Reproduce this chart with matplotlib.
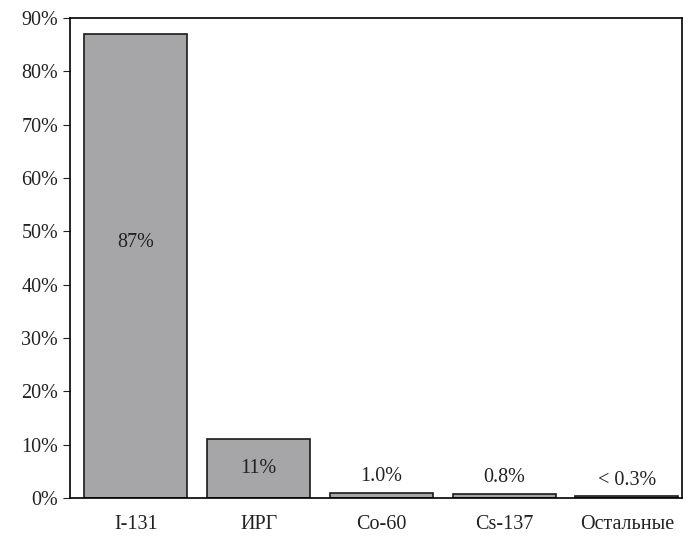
import numpy as np
import matplotlib.pyplot as plt
from matplotlib.ticker import FuncFormatter

plt.rcParams['font.family'] = ['Liberation Serif', 'DejaVu Serif']

categories = ['I-131', 'ИРГ', 'Co-60', 'Cs-137', 'Остальные']
values = [87, 11, 1.0, 0.8, 0.3]
labels = ['87%', '11%', '1.0%', '0.8%', '< 0.3%']

fig = plt.figure(figsize=(6.83, 5.44), dpi=100)
ax = fig.add_axes([0.1025, 0.0846, 0.896, 0.882])
x = np.arange(len(categories))
ax.bar(x, values, width=0.84, color='#a6a6a8', edgecolor='#1a1a1a', linewidth=1.2)

for i, (v, t) in enumerate(zip(values, labels)):
    if v > 50:
        ax.text(i, 48, t, ha='center', va='center', fontsize=14.5, color='#222222')
    elif v > 5:
        ax.text(i, v / 2, t, ha='center', va='center', fontsize=14.5, color='#222222')
    else:
        ax.text(i, v + 3, t, ha='center', va='center', fontsize=14.5, color='#222222')

ax.set_xlim(-0.537, 4.45)
ax.set_ylim(0, 90)
ax.set_yticks(np.arange(0, 91, 10))
ax.yaxis.set_major_formatter(FuncFormatter(lambda v, p: f'{int(v)}%'))
ax.set_xticks(x)
ax.set_xticklabels(categories)
ax.tick_params(axis='both', labelsize=14.5, colors='#222222', direction='out', length=5)
ax.tick_params(axis='x', length=0, pad=12)
for s in ax.spines.values():
    s.set_linewidth(1.2)

plt.savefig('out.png')
